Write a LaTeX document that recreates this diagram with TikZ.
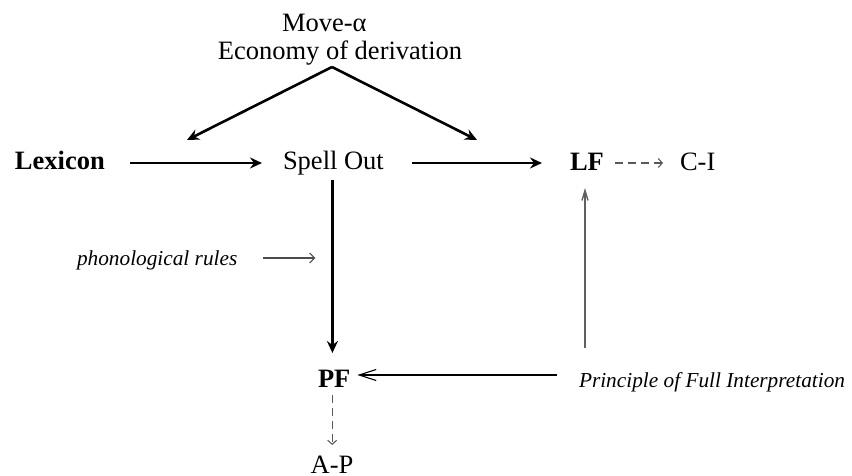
\documentclass[tikz,border=0pt]{standalone}
\usepackage{fontspec}
\setmainfont{Liberation Serif}
\usetikzlibrary{arrows.meta}
\begin{document}
\begin{tikzpicture}[x=1pt,y=-1pt,
  every node/.style={inner sep=0pt, outer sep=0pt, font=\fontsize{26.5}{30}\selectfont},
  bflbl/.style={font=\fontsize{26.5}{30}\selectfont\bfseries},
  itlbl/.style={font=\fontsize{21.3}{25}\selectfont\itshape},
  thickarr/.style={line width=2.6pt, -{Stealth[length=12pt,width=11pt,inset=4pt]}},
  thinarr/.style={line width=1.1pt, -{Straight Barb[length=17pt,width=11pt]}},
  uparr/.style={line width=1.4pt, gray!75!black, -{Straight Barb[length=10pt,width=6pt]}},
  phonarr/.style={line width=1.1pt, gray!60!black, -{Straight Barb[length=5pt,width=10pt]}},
  dasharr/.style={line width=1.1pt, gray!70!black, dash pattern=on 8pt off 5pt, -{Straight Barb[length=4pt,width=9pt]}},
]
\useasboundingbox (0,0) rectangle (852,476);

\node[anchor=base west] (move) at (282,32) {Move-α};
\node[anchor=base] (econ) at (340,60) {Economy of derivation};
\node[bflbl, anchor=base west] (lex) at (15,170) {Lexicon};
\node[anchor=base west] (spell) at (283,170) {Spell Out};
\node[bflbl, anchor=base west] (lf) at (570,171) {LF};
\node[anchor=base west] (ci) at (680,171) {C-I};
\node[itlbl, anchor=base west] (phon) at (77,265) {phonological rules};
\node[bflbl, anchor=base west] (pf) at (318,387) {PF};
\node[itlbl, anchor=base west] (pfi) at (579,387) {Principle of Full Interpretation};
\node[anchor=base] (ap) at (332,473) {A-P};

\coordinate (apex) at (332,67);
\coordinate (tipL) at (187,140);
\coordinate (tipR) at (477,140);
\coordinate (yPF) at (0,353);
\coordinate (yLF) at (0,188);
\coordinate (yAP) at (0,445);
\coordinate (downS) at ([shift={(-1,4)}]spell.south);
\coordinate (upS) at ([shift={(6,-39)}]pfi.base west);
\coordinate (apS) at ([shift={(-2,8)}]pf.south);

% Move-alpha arrows
\draw[thickarr] (apex) -- (tipL);
\draw[thickarr] (apex) -- (tipR);

% main row
\draw[thickarr] ([shift={(25,-7)}]lex.base east) -- ([shift={(-21,-7)}]spell.base west);
\draw[thickarr] ([shift={(28,-7)}]spell.base east) -- ([shift={(-28,-8)}]lf.base west);
\draw[dasharr] ([shift={(11,-8)}]lf.base east) -- ([shift={(-17,-8)}]ci.base west);

% Spell Out down to PF
\draw[thickarr] (downS) -- (downS |- yPF);

% phonological rules
\draw[phonarr] ([shift={(26,-7)}]phon.base east) -- ([shift={(78,-7)}]phon.base east);

% Principle of Full Interpretation
\draw[thinarr] ([shift={(-22,-12)}]pfi.base west) -- ([shift={(7,-12)}]pf.base east);
\draw[uparr] (upS) -- (upS |- yLF);

% PF to A-P
\draw[dasharr] (apS) -- (apS |- yAP);
\end{tikzpicture}
\end{document}
